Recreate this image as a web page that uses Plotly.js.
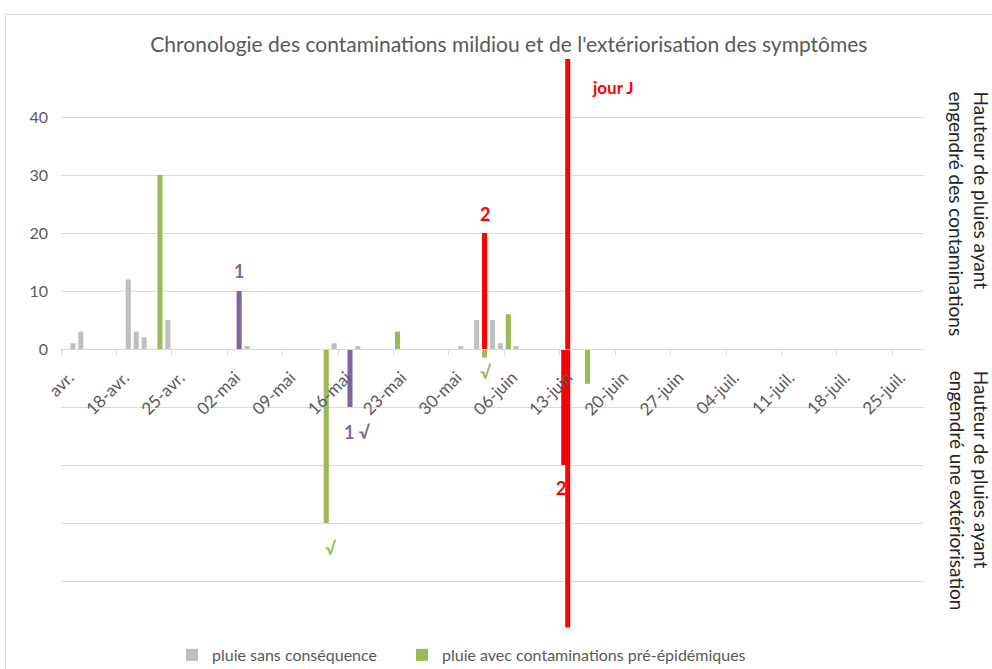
<!DOCTYPE html>
<html>
<head>
<meta charset="utf-8">
<script src="https://cdn.plot.ly/plotly-3.0.1.min.js"></script>
<style>
  html, body { margin: 0; padding: 0; background: #ffffff; }
  #wrap { position: relative; width: 992px; height: 669px; overflow: hidden; }
  #chart { position: absolute; left: 0; top: 0; width: 992px; height: 669px; }
  #frame { position: absolute; left: 5px; top: 14px; width: 1000px; height: 700px;
           border: 1px solid #d9d9d9; pointer-events: none; box-sizing: border-box; }
</style>
</head>
<body>
<div id="wrap">
  <div id="chart"></div>
  <div id="frame"></div>
</div>
<script>
// ---------- data ----------
const grayDates  = ['2021-04-12','2021-04-13','2021-04-19','2021-04-20','2021-04-21','2021-04-24','2021-05-04','2021-05-15','2021-05-18','2021-05-31','2021-06-02','2021-06-04','2021-06-05','2021-06-07'];
const grayValues = [1, 3, 12, 3, 2, 5, 0.5, 1, 0.5, 0.5, 5, 5, 1, 0.5];

const greenDates  = ['2021-04-23','2021-05-14','2021-05-23','2021-06-03','2021-06-06','2021-06-16'];
const greenValues = [30, -30, 3, -1.5, 6, -6];

const purpleDates  = ['2021-05-03','2021-05-17'];
const purpleValues = [10, -10];

const redDates  = ['2021-06-03','2021-06-13'];
const redValues = [20, -20];

const jourJDate  = '2021-06-14';
const jourJRange = [50, -48];

const tickDates = ['2021-04-11','2021-04-18','2021-04-25','2021-05-02','2021-05-09','2021-05-16','2021-05-23','2021-05-30','2021-06-06','2021-06-13','2021-06-20','2021-06-27','2021-07-04','2021-07-11','2021-07-18','2021-07-25'];
const tickLabels = ['avr.','18-avr.','25-avr.','02-mai','09-mai','16-mai','23-mai','30-mai','06-juin','13-juin','20-juin','27-juin','04-juil.','11-juil.','18-juil.','25-juil.'];

const yTickVals = [-40, -30, -20, -10, 0, 10, 20, 30, 40];
const yTickText = ['', '', '', '', '0', '10', '20', '30', '40'];

const seriesNames = ['pluie sans conséquence', 'pluie avec contaminations pré-épidémiques'];

// ---------- style ----------
const FONT = 'Lato, "Open Sans", sans-serif';
const C_GRAY = '#bfbfbf', C_GREEN = '#9bbb59', C_PURPLE = '#8064a2', C_RED = '#ff0000';
const DAY = 86400000;
const BAR_W = 0.64 * DAY;

function barTrace(x, y, color, name, legendId) {
  const t = {
    type: 'bar', x: x, y: y, name: name, showlegend: !!legendId,
    marker: { color: color, line: { width: 0 } },
    width: x.map(() => BAR_W),
    xperiod: DAY, xperiodalignment: 'middle',
    hoverinfo: 'x+y'
  };
  if (legendId) t.legend = legendId;
  return t;
}

const traces = [
  barTrace(grayDates, grayValues, C_GRAY, seriesNames[0], 'legend'),
  barTrace(greenDates, greenValues, C_GREEN, seriesNames[1], 'legend2'),
  barTrace(purpleDates, purpleValues, C_PURPLE, 'purple', null),
  barTrace(redDates, redValues, C_RED, 'rouge', null),
  {
    type: 'scatter', mode: 'lines', x: [jourJDate, jourJDate], y: jourJRange,
    line: { color: C_RED, width: 5 }, showlegend: false, hoverinfo: 'skip'
  }
];

function mid(d) { return d + ' 12:00'; }

function note(x, y, text, color, opts) {
  return Object.assign({
    x: x, y: y, xref: 'x', yref: 'y', text: text, showarrow: false,
    font: { family: FONT, size: 18, color: color, weight: 'bold' }
  }, opts);
}

const annotations = [
  note(mid(purpleDates[0]), purpleValues[0], '1', C_PURPLE, { yanchor: 'bottom', yshift: 7 }),
  note(mid(purpleDates[1]), purpleValues[1], '1 √', C_PURPLE, { yanchor: 'top', yshift: -12, xshift: 8 }),
  note(mid(greenDates[1]), greenValues[1], '√', C_GREEN, { yanchor: 'top', yshift: -12, xshift: 5 }),
  note(mid(greenDates[3]), greenValues[3], '√', C_GREEN, { yanchor: 'top', yshift: -1, xshift: 1 }),
  note(mid(redDates[0]), redValues[0], '2', C_RED, { yanchor: 'bottom', yshift: 6 }),
  note(mid(redDates[1]), redValues[1], '2', C_RED, { yanchor: 'top', yshift: -10, xshift: -3 }),
  note(jourJDate, jourJRange[0], 'jour J', C_RED, { xanchor: 'center', yanchor: 'middle', xshift: 45, yshift: -28, font: { family: FONT, size: 17, color: C_RED, weight: 'bold' } }),
  {
    xref: 'paper', yref: 'paper', x: 1.0525, y: 0.733, xanchor: 'center', yanchor: 'middle',
    text: 'Hauteur de pluies ayant<br>engendré des contaminations', textangle: 90, showarrow: false,
    align: 'left', font: { family: FONT, size: 19, color: '#262626' }
  },
  {
    xref: 'paper', yref: 'paper', x: 1.0525, y: 0.255, xanchor: 'center', yanchor: 'middle',
    text: 'Hauteur de pluies ayant<br>engendré une extériorisation', textangle: 90, showarrow: false,
    align: 'left', font: { family: FONT, size: 19, color: '#262626' }
  }
];

const legendCommon = {
  orientation: 'h', xref: 'container', yref: 'container', y: 0.021,
  xanchor: 'left', yanchor: 'middle',
  font: { family: FONT, size: 16, color: '#595959' }, bgcolor: 'rgba(0,0,0,0)'
};

const layout = {
  width: 992, height: 669,
  margin: { l: 61, r: 68, t: 59, b: 30, autoexpand: false },
  paper_bgcolor: '#ffffff', plot_bgcolor: '#ffffff',
  font: { family: FONT, color: '#595959' },
  title: {
    text: 'Chronologie des contaminations mildiou et de l\'extériorisation des symptômes',
    xref: 'container', yref: 'container', x: 0.513, y: 0.933, xanchor: 'center', yanchor: 'middle',
    font: { family: FONT, size: 21, color: '#595959' }, automargin: false
  },
  barmode: 'overlay',
  showlegend: true,
  legend: Object.assign({}, legendCommon, { x: 172 / 992 }),
  legend2: Object.assign({}, legendCommon, { x: 402 / 992 }),
  xaxis: {
    type: 'date', range: ['2021-04-11', '2021-07-29'],
    anchor: 'free', position: 0.5, automargin: false,
    tickmode: 'array', tickvals: tickDates, ticktext: tickLabels, tickangle: -45,
    ticklabelshift: 8, ticklabelstandoff: 6,
    showline: true, linecolor: '#d9d9d9', linewidth: 1,
    ticks: 'outside', ticklen: 5, tickcolor: '#d9d9d9',
    showgrid: false, zeroline: false,
    tickfont: { family: FONT, size: 17, color: '#595959' }
  },
  yaxis: {
    range: [-50, 50], tickmode: 'array', tickvals: yTickVals, ticktext: yTickText,
    automargin: false,
    showgrid: true, gridcolor: '#d9d9d9', gridwidth: 1, zeroline: false,
    showline: false, ticks: '', ticklabelstandoff: 12,
    tickfont: { family: FONT, size: 16, color: '#595959' }
  },
  annotations: annotations
};

Plotly.newPlot('chart', traces, layout, { displayModeBar: false, staticPlot: true });
</script>
</body>
</html>
